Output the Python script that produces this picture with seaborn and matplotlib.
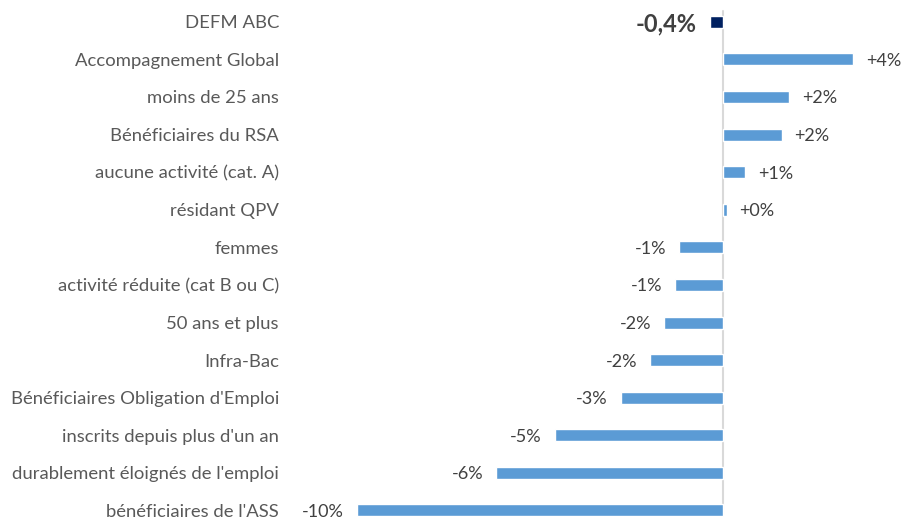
import pandas as pd
import numpy as np
import matplotlib
matplotlib.use("Agg")
import matplotlib.pyplot as plt
import seaborn as sns

# Evolution sur un an, en %
categories = ["DEFM ABC", "Accompagnement Global", "moins de 25 ans",
              "Bénéficiaires du RSA", "aucune activité (cat. A)", "résidant QPV",
              "femmes", "activité réduite (cat B ou C)", "50 ans et plus",
              "Infra-Bac", "Bénéficiaires Obligation d'Emploi",
              "inscrits depuis plus d'un an", "durablement éloignés de l'emploi",
              "bénéficiaires de l'ASS"]
values = [-0.36, 3.55, 1.8, 1.6, 0.6, 0.1, -1.2, -1.3, -1.6, -2.0, -2.8, -4.6, -6.2, -10.0]

df = pd.DataFrame(dict(cat=categories, val=values))
colors = ["#002060"] + ["#5B9BD5"] * (len(categories) - 1)

sns.set_style("white")
plt.rcParams["font.family"] = ["Lato", "DejaVu Sans"]

fig = plt.figure(figsize=(9.02, 5.24), dpi=100)
ax = fig.add_axes([290 / 902, 0, 610 / 902, 521 / 524])

sns.barplot(data=df, x="val", y="cat", hue="cat", palette=colors,
            orient="h", width=0.32, legend=False, ax=ax, saturation=1)

ax.set_xlim((290 - 723) / 36.6, (900 - 723) / 36.6)
ax.set_ylim(13.36, -0.5)
ax.axvline(0, ymin=0.02, ymax=0.985, color="#D9D9D9", lw=1.5, zorder=0)

for i, v in enumerate(values):
    if i == 0:
        txt = f"{v:.1f}%".replace(".", ",")
        ax.text(v - 0.35, i, txt, ha="right", va="center_baseline", fontsize=17,
                fontweight="bold", color="#404040")
        continue
    txt = f"{v:+.0f}%"
    if v >= 0:
        ax.text(v + 0.35, i, txt, ha="left", va="center_baseline", fontsize=13, color="#404040")
    else:
        ax.text(v - 0.35, i, txt, ha="right", va="center_baseline", fontsize=13, color="#404040")

ax.set_xlabel("")
ax.set_ylabel("")
ax.set_xticks([])
ax.tick_params(axis="y", length=0, pad=8, labelsize=13.3, labelcolor="#595959")
sns.despine(ax=ax, left=True, bottom=True)

fig.savefig("out.png", dpi=100)
